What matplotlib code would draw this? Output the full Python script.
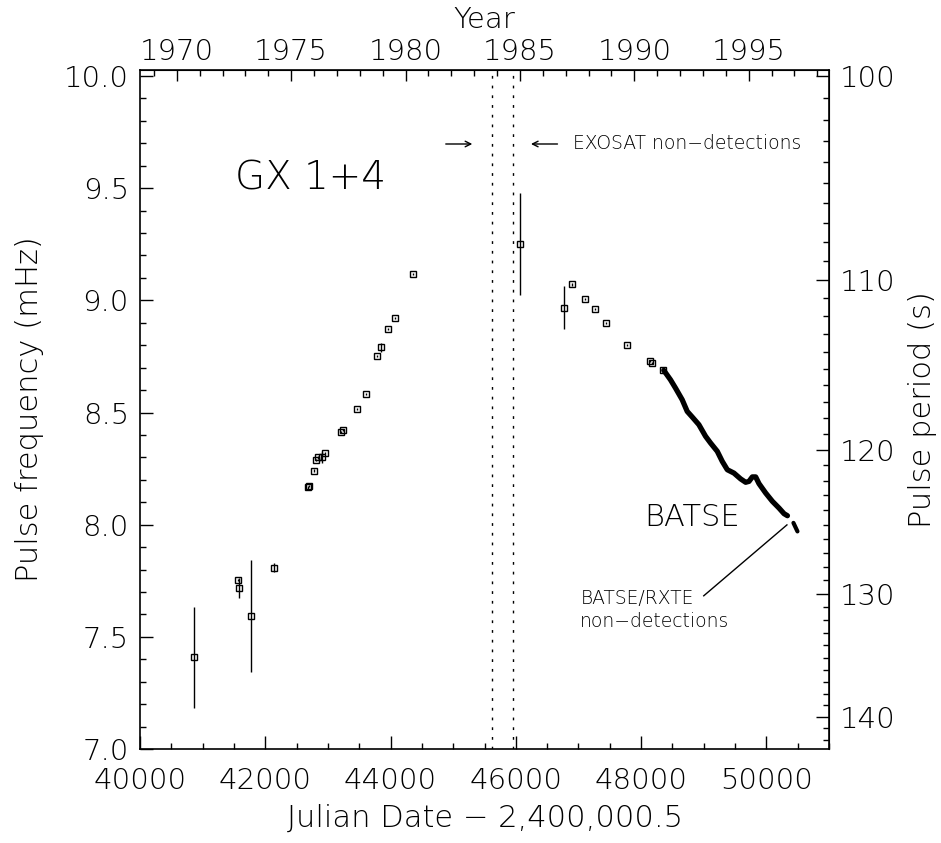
import matplotlib
matplotlib.use("Agg")
import matplotlib.pyplot as plt
from matplotlib.ticker import MultipleLocator, FixedLocator, FormatStrFormatter

plt.rcParams["font.family"] = ["DejaVu Sans"]
plt.rcParams["font.weight"] = "light"
plt.rcParams["axes.labelweight"] = "light"

# pulse frequency measurements (MJD, mHz, 1-sigma)
jd_obs = [40869, 41568, 41578, 41765, 42138, 42682, 42698, 42773, 42816, 42848,
          42912, 42960, 43216, 43242, 43472, 43600, 43776, 43840, 43957, 44069,
          44352, 46064, 46768, 46896, 47109, 47258, 47440, 47776, 48138, 48181,
          48357]
freq_obs = [7.409, 7.752, 7.716, 7.593, 7.807, 8.166, 8.174, 8.241, 8.288, 8.300,
            8.300, 8.321, 8.414, 8.423, 8.514, 8.584, 8.752, 8.790, 8.873, 8.922,
            9.119, 9.251, 8.968, 9.071, 9.007, 8.961, 8.900, 8.801, 8.731, 8.722,
            8.691]
err_obs = [0.226, 0.005, 0.045, 0.250, 0.020, 0.005, 0.005, 0.005, 0.005, 0.005,
           0.025, 0.005, 0.005, 0.005, 0.005, 0.005, 0.005, 0.020, 0.005, 0.005,
           0.005, 0.228, 0.097, 0.005, 0.005, 0.005, 0.005, 0.005, 0.005, 0.005,
           0.005]

# BATSE monitoring
jd_batse = [48362, 48469, 48549, 48656, 48736, 48816, 48922, 49029, 49109, 49216,
            49296, 49376, 49482, 49589, 49669, 49722, 49776, 49829, 49882, 49989,
            50096, 50202, 50282, 50336]
freq_batse = [8.688, 8.646, 8.609, 8.557, 8.505, 8.480, 8.446, 8.394, 8.364, 8.327,
              8.282, 8.245, 8.230, 8.204, 8.189, 8.193, 8.213, 8.213, 8.183, 8.141,
              8.104, 8.074, 8.049, 8.040]
jd_batse2 = [50432, 50496]
freq_batse2 = [8.008, 7.970]

exosat_lines = [45620, 45960]

year_ticks = [1970, 1975, 1980, 1985, 1990, 1995]
period_ticks = [100, 110, 120, 130, 140]


def mjd_to_year(m):
    return 1970.0 + (m - 40587.0) / 365.25


def year_to_mjd(y):
    return 40587.0 + (y - 1970.0) * 365.25


def f_to_p(f):
    return 1000.0 / f


def p_to_f(p):
    return 1000.0 / p


fig = plt.figure(figsize=(9.41, 8.43), dpi=100)
ax = fig.add_axes([0.1488, 0.1115, 0.7322, 0.8055])

ax.errorbar(jd_obs, freq_obs, yerr=err_obs, fmt="s", ms=5, mfc="none",
            mec="black", mew=1.0, ecolor="black", elinewidth=1.0, capsize=0)
ax.plot(jd_batse, freq_batse, color="black", lw=3.8, solid_capstyle="round")
ax.plot(jd_batse2, freq_batse2, color="black", lw=3.0, solid_capstyle="round")

for x in exosat_lines:
    ax.axvline(x, color="black", lw=1.0, linestyle=(0, (2, 5)))

ax.set_xlim(40000, 51000)
ax.set_ylim(7.0, 10.027)

ax.xaxis.set_major_locator(MultipleLocator(2000))
ax.xaxis.set_minor_locator(MultipleLocator(500))
ax.yaxis.set_major_locator(MultipleLocator(0.5))
ax.yaxis.set_minor_locator(MultipleLocator(0.1))
ax.yaxis.set_major_formatter(FormatStrFormatter("%.1f"))
ax.tick_params(which="both", direction="in", top=False, right=False, labelsize=21)
ax.tick_params(which="major", length=9.5, width=1.0)
ax.tick_params(which="minor", length=4.5, width=1.0)
ax.tick_params(axis="x", pad=13)
ax.tick_params(axis="y", pad=8)
for s in ax.spines.values():
    s.set_linewidth(1.2)

ax.set_xlabel("Julian Date − 2,400,000.5", fontsize=22, labelpad=6)
ax.set_ylabel("Pulse frequency (mHz)", fontsize=22, labelpad=14)

top = ax.secondary_xaxis("top", functions=(mjd_to_year, year_to_mjd))
top.xaxis.set_major_locator(FixedLocator(year_ticks))
top.xaxis.set_minor_locator(MultipleLocator(1))
top.tick_params(which="both", direction="in", labelsize=21, pad=3)
top.tick_params(which="major", length=8, width=1.0)
top.tick_params(which="minor", length=4.5, width=1.0)
top.set_xlabel("Year", fontsize=21, labelpad=7)

right = ax.secondary_yaxis("right", functions=(f_to_p, p_to_f))
right.yaxis.set_major_locator(FixedLocator(period_ticks))
right.yaxis.set_minor_locator(MultipleLocator(1))
right.tick_params(which="both", direction="in", labelsize=21, pad=8)
right.tick_params(which="major", length=9.5, width=1.0)
right.tick_params(which="minor", length=4.5, width=1.0)
right.set_ylabel("Pulse period (s)", fontsize=22, labelpad=9)

ax.text(41510, 9.492, "GX 1+4", fontsize=28, ha="left", va="baseline")
ax.text(48053, 7.995, "BATSE", fontsize=22, ha="left", va="baseline")
ax.text(46917, 9.697, "EXOSAT non−detections", fontsize=13.5, ha="left", va="center")
ax.text(47029, 7.62, "BATSE/RXTE\nnon−detections", fontsize=13.5, ha="left",
        va="center", linespacing=1.3)

ax.annotate("", xy=(45349, 9.697), xytext=(44837, 9.697),
            arrowprops=dict(arrowstyle="->", lw=1.0, color="black"))
ax.annotate("", xy=(46197, 9.697), xytext=(46709, 9.697),
            arrowprops=dict(arrowstyle="->", lw=1.0, color="black"))
ax.plot([50328, 49000], [7.999, 7.683], color="black", lw=1.0)

fig.savefig("out.png", dpi=100)
